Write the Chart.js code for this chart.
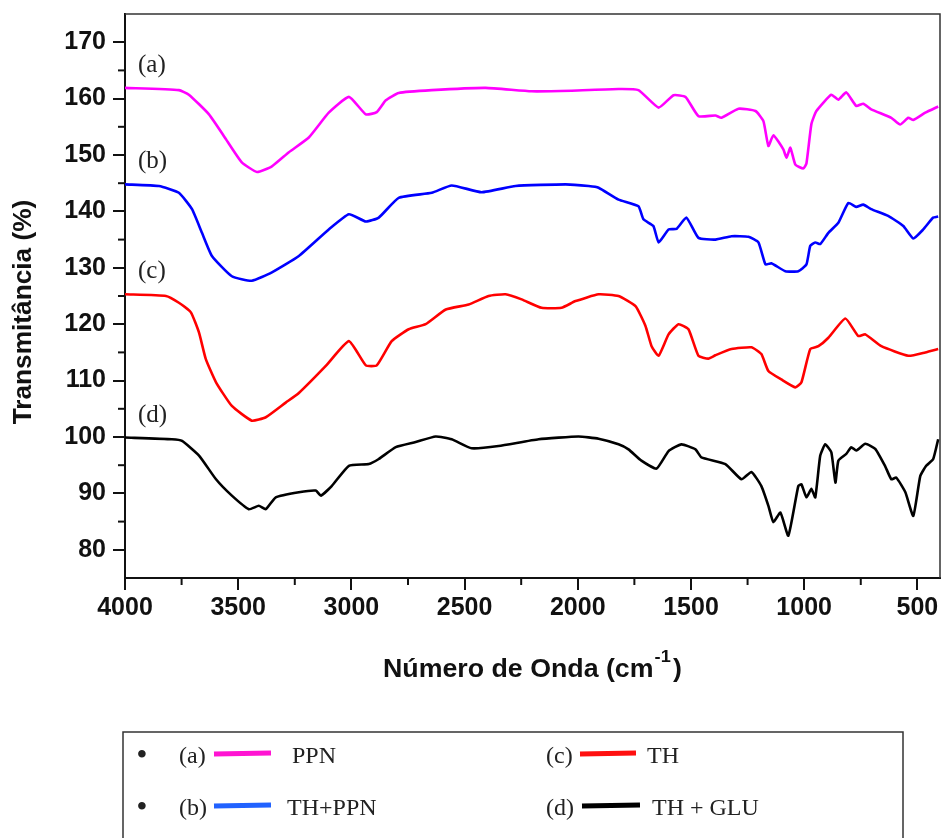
<!DOCTYPE html>
<html>
<head>
<meta charset="utf-8">
<title>FTIR</title>
<script src="https://cdn.jsdelivr.net/npm/chart.js@4.4.1/dist/chart.umd.min.js"></script>
<style>
  body { margin: 0; background: #fff; }
  #ftirChart { display: block; }
</style>
</head>
<body>
<canvas id="ftirChart" width="943" height="838"></canvas>
<script>
const wnTicks = [4000, 3500, 3000, 2500, 2000, 1500, 1000, 500];
const wnMinor = [3750, 3250, 2750, 2250, 1750, 1250, 750];
const tTicks = [80, 90, 100, 110, 120, 130, 140, 150, 160, 170];
const tMinor = [85, 95, 105, 115, 125, 135, 145, 155, 165];

const seriesTags = ['(a)', '(b)', '(c)', '(d)'];
const seriesNames = ['PPN', 'TH+PPN', 'TH', 'TH + GLU'];
const seriesColors = ['#ff00ff', '#0000ff', '#ff0000', '#000000'];
const legendColors = ['#ff14d2', '#2162ff', '#ff1010', '#000000'];

// (a) PPN
const ppnWn = [4000, 3762, 3718, 3629, 3554, 3484, 3417, 3351, 3276, 3188, 3100, 3011, 2936, 2888, 2848, 2791, 2645, 2407, 2204, 2027, 1820, 1732, 1643, 1577, 1524, 1467, 1392, 1365, 1290, 1215, 1180, 1158, 1136, 1092, 1078, 1061, 1039, 1004, 990, 968, 946, 880, 849, 814, 770, 739, 704, 615, 576, 540, 518, 465, 408];
const ppnT = [161.9, 161.5, 160.7, 157.2, 152.8, 148.7, 147.0, 148.0, 150.5, 153.1, 157.5, 160.3, 157.2, 157.6, 159.7, 161.0, 161.5, 161.9, 161.3, 161.4, 161.7, 161.5, 158.4, 160.6, 160.3, 156.9, 157.0, 156.6, 158.2, 157.8, 156.0, 151.6, 153.5, 151.0, 149.5, 151.3, 148.3, 147.6, 148.5, 155.5, 157.8, 160.7, 159.8, 161.1, 158.7, 159.1, 158.1, 156.6, 155.4, 156.6, 156.2, 157.5, 158.6];

// (b) TH+PPN
const thPpnWn = [4000, 3850, 3762, 3704, 3660, 3616, 3528, 3440, 3351, 3232, 3100, 3011, 2936, 2879, 2791, 2645, 2557, 2425, 2275, 2054, 1952, 1908, 1820, 1732, 1710, 1666, 1643, 1599, 1564, 1520, 1467, 1392, 1321, 1246, 1202, 1171, 1145, 1083, 1026, 990, 973, 951, 929, 893, 849, 805, 770, 739, 704, 629, 562, 518, 474, 430, 408];
const thPpnT = [144.8, 144.5, 143.3, 140.4, 136.2, 132.1, 128.5, 127.7, 129.2, 132.1, 136.8, 139.5, 138.2, 138.9, 142.4, 143.3, 144.6, 143.4, 144.5, 144.8, 144.5, 144.2, 142.1, 140.9, 138.6, 137.4, 134.5, 136.8, 136.9, 138.9, 135.3, 135.0, 135.6, 135.5, 134.5, 130.6, 130.8, 129.4, 129.4, 130.6, 133.9, 134.5, 134.2, 136.2, 138.0, 141.5, 140.8, 141.2, 140.4, 139.2, 137.4, 135.2, 136.8, 138.9, 139.1];

// (c) TH
const thWn = [4000, 3819, 3762, 3709, 3673, 3643, 3598, 3528, 3440, 3378, 3290, 3232, 3113, 3011, 2936, 2888, 2822, 2747, 2672, 2583, 2482, 2394, 2319, 2248, 2160, 2072, 2010, 1908, 1820, 1745, 1701, 1674, 1643, 1599, 1555, 1511, 1467, 1423, 1392, 1321, 1233, 1189, 1158, 1101, 1039, 1012, 973, 937, 893, 818, 761, 730, 659, 540, 465, 408];
const thT = [125.3, 125.0, 123.8, 122.1, 118.5, 113.8, 109.7, 105.5, 102.9, 103.5, 106.1, 107.8, 112.6, 117.0, 112.7, 112.7, 117.0, 119.1, 120.0, 122.6, 123.5, 125.0, 125.3, 124.4, 122.9, 122.9, 124.1, 125.3, 125.0, 123.2, 119.7, 116.1, 114.4, 118.2, 120.0, 119.1, 114.4, 113.9, 114.5, 115.6, 115.9, 114.7, 111.7, 110.2, 108.8, 109.7, 115.6, 116.1, 117.6, 121.0, 117.9, 118.2, 116.1, 114.4, 115.0, 115.6];

// (d) TH + GLU
const thGluWn = [4000, 3793, 3748, 3673, 3598, 3528, 3453, 3409, 3378, 3334, 3232, 3157, 3135, 3087, 3011, 2923, 2879, 2804, 2716, 2628, 2557, 2469, 2350, 2173, 1997, 1908, 1820, 1776, 1719, 1652, 1599, 1542, 1480, 1454, 1348, 1277, 1233, 1189, 1158, 1136, 1105, 1070, 1026, 1012, 990, 968, 951, 929, 907, 880, 862, 849, 814, 792, 770, 730, 686, 642, 615, 593, 553, 518, 487, 461, 430, 408];
const thGluT = [99.9, 99.6, 99.3, 96.7, 92.5, 89.6, 87.2, 87.8, 87.2, 89.3, 90.2, 90.5, 89.6, 91.3, 94.9, 95.2, 96.1, 98.2, 99.1, 100.1, 99.6, 98.0, 98.4, 99.6, 100.1, 99.7, 98.7, 97.8, 95.8, 94.4, 97.5, 98.7, 97.8, 96.4, 95.2, 92.5, 93.8, 91.3, 87.8, 84.9, 86.6, 82.5, 91.3, 91.6, 89.3, 90.8, 89.3, 96.7, 98.7, 97.3, 91.9, 95.8, 97.0, 98.2, 97.6, 98.8, 97.9, 94.8, 92.5, 92.8, 90.2, 86.0, 93.1, 94.9, 96.1, 99.6];

const seriesWn = [ppnWn, thPpnWn, thWn, thGluWn];
const seriesT = [ppnT, thPpnT, thT, thGluT];

const toPoints = (xs, ys) => xs.map((v, i) => ({ x: v, y: ys[i] }));

function line(ctx, x1, y1, x2, y2) {
    ctx.beginPath();
    ctx.moveTo(x1, y1);
    ctx.lineTo(x2, y2);
    ctx.stroke();
}

const extras = {
    id: 'extras',
    afterDraw(chart) {
        const ctx = chart.ctx;
        const area = chart.chartArea;
        const xs = chart.scales.x;
        const ys = chart.scales.y;
        ctx.save();

        // frame on top and right
        ctx.strokeStyle = '#333';
        ctx.lineWidth = 1.5;
        ctx.beginPath();
        ctx.moveTo(area.left, area.top);
        ctx.lineTo(area.right, area.top);
        ctx.lineTo(area.right, area.bottom);
        ctx.stroke();

        // minor ticks
        ctx.strokeStyle = '#111';
        ctx.lineWidth = 2;
        wnMinor.forEach(v => {
            const px = xs.getPixelForValue(v);
            line(ctx, px, area.bottom, px, area.bottom + 7);
        });
        tMinor.forEach(v => {
            const py = ys.getPixelForValue(v);
            line(ctx, area.left - 7, py, area.left, py);
        });

        // curve tags
        ctx.fillStyle = '#222';
        ctx.font = '25px "Liberation Serif"';
        ctx.textAlign = 'left';
        ctx.textBaseline = 'alphabetic';
        seriesTags.forEach((tag, i) => {
            ctx.fillText(tag, 138, ys.getPixelForValue(seriesT[i][0]) - 16);
        });

        // axis titles
        ctx.fillStyle = '#111';
        ctx.font = 'bold 25px "Liberation Sans"';
        ctx.save();
        ctx.translate(31, 312);
        ctx.rotate(-Math.PI / 2);
        ctx.scale(1.05, 1);
        ctx.textAlign = 'center';
        ctx.fillText('Transmitância (%)', 0, 0);
        ctx.restore();

        ctx.save();
        ctx.translate(383, 677);
        ctx.scale(1.07, 1);
        const part1 = 'Número de Onda (cm';
        ctx.fillText(part1, 0, 0);
        const w1 = ctx.measureText(part1).width;
        ctx.font = 'bold 17px "Liberation Sans"';
        ctx.fillText('-1', w1 + 1, -15);
        const w2 = ctx.measureText('-1').width;
        ctx.font = 'bold 25px "Liberation Sans"';
        ctx.fillText(')', w1 + w2 + 3, 0);
        ctx.restore();

        // legend box
        ctx.strokeStyle = '#333';
        ctx.lineWidth = 1.5;
        ctx.strokeRect(123, 732, 780, 130);

        const rowY = [763, 815];
        const tagX = [179, 179, 546, 546];
        const lineX = [[214, 271], [214, 271], [580, 636], [582, 640]];
        const nameX = [292, 287, 647, 652];
        seriesNames.forEach((name, i) => {
            const by = rowY[i % 2];
            ctx.fillStyle = '#222';
            if (i < 2) {
                ctx.font = 'bold 28px "Liberation Serif"';
                ctx.fillText('•', 137, by);
            }
            ctx.font = '24px "Liberation Serif"';
            ctx.fillText(seriesTags[i], tagX[i], by);
            ctx.fillText(name, nameX[i], by);
            ctx.strokeStyle = legendColors[i];
            ctx.lineWidth = 5;
            line(ctx, lineX[i][0], by - 9, lineX[i][1], by - 10);
        });

        ctx.restore();
    }
};

const tickFont = { family: 'Liberation Sans', size: 25, weight: 'bold' };

new Chart(document.getElementById('ftirChart'), {
    type: 'line',
    data: {
        datasets: seriesNames.map((name, i) => ({
            label: name,
            data: toPoints(seriesWn[i], seriesT[i]),
            borderColor: seriesColors[i],
            borderWidth: 2.6,
            pointRadius: 0,
            tension: 0.15,
            fill: false
        }))
    },
    options: {
        responsive: false,
        animation: false,
        devicePixelRatio: 1,
        layout: { padding: { left: 0, right: 3, top: 14, bottom: 0 } },
        plugins: { legend: { display: false }, tooltip: { enabled: false } },
        scales: {
            x: {
                type: 'linear',
                reverse: true,
                min: 400,
                max: 4000,
                afterBuildTicks: scale => { scale.ticks = wnTicks.map(v => ({ value: v })); },
                afterFit: scale => {
                    scale.height = 260;
                    scale.paddingLeft = 0;
                    scale.paddingRight = 0;
                },
                grid: { drawOnChartArea: false, tickLength: 12, color: '#111', lineWidth: 2 },
                border: { display: true, color: '#111', width: 2 },
                ticks: { color: '#111', font: tickFont, padding: 3, autoSkip: false, maxRotation: 0, callback: v => String(v) }
            },
            y: {
                min: 75,
                max: 175,
                afterBuildTicks: scale => { scale.ticks = tTicks.map(v => ({ value: v })); },
                afterFit: scale => {
                    scale.width = 125;
                    scale.paddingTop = 0;
                    scale.paddingBottom = 0;
                },
                grid: { drawOnChartArea: false, tickLength: 12, color: '#111', lineWidth: 2 },
                border: { display: true, color: '#111', width: 2 },
                ticks: { color: '#111', font: tickFont, padding: 7, autoSkip: false, callback: v => String(v) }
            }
        }
    },
    plugins: [extras]
});
</script>
</body>
</html>
